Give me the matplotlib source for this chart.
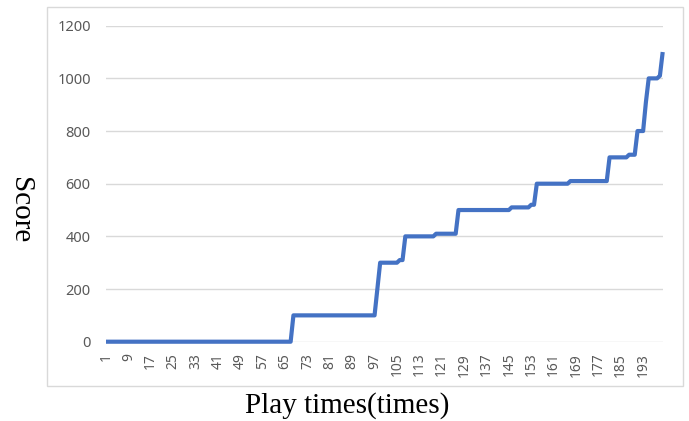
import matplotlib
matplotlib.use("Agg")
import matplotlib.pyplot as plt
from matplotlib.patches import Rectangle
import numpy as np

# Score recorded after each play (plays 1..200)
plays = list(range(1, 201))
score = (
    [0] * 67                      # plays 1-67
    + [100] * 30                  # plays 68-97
    + [200]                       # play 98
    + [300] * 7                   # plays 99-105
    + [310] * 2                   # plays 106-107
    + [400] * 11                  # plays 108-118
    + [410] * 8                   # plays 119-126
    + [500] * 19                  # plays 127-145
    + [510] * 7                   # plays 146-152
    + [520] * 2                   # plays 153-154
    + [600] * 12                  # plays 155-166
    + [610] * 14                  # plays 167-180
    + [700] * 7                   # plays 181-187
    + [710] * 3                   # plays 188-190
    + [800] * 3                   # plays 191-193
    + [910]                       # play 194
    + [1000] * 4                  # plays 195-198
    + [1010]                      # play 199
    + [1100]                      # play 200
)
x_tick_labels = [str(v) for v in range(1, 201, 8)]
y_ticks = [0, 200, 400, 600, 800, 1000, 1200]

W, H = 689, 421
fig = plt.figure(figsize=(W / 100, H / 100), dpi=100)
fig.patch.set_facecolor("white")

# chart-area frame
fig.patches.append(Rectangle((46.7 / W, 1 - 386 / H), (682.7 - 46.7) / W, (386 - 6.7) / H,
                             transform=fig.transFigure, fill=False,
                             edgecolor="#d9d9d9", linewidth=1.0))

left, right = 106 / W, 662.7 / W
bottom, top = 1 - 341.7 / H, 1 - 25.7 / H
ax = fig.add_axes([left, bottom, right - left, top - bottom])

ax.plot(plays, score, color="#4472C4", linewidth=3.0, solid_joinstyle="round",
        solid_capstyle="butt", clip_on=False, zorder=3)

ax.set_xlim(1, 200)
ax.set_ylim(0, 1200)
ax.set_yticks(y_ticks)
ax.set_yticklabels([str(v) for v in y_ticks])
ax.set_xticks(list(range(1, 201, 8)))
ax.set_xticklabels(x_tick_labels, rotation=90)

ax.grid(axis="y", color="#d9d9d9", linewidth=1.0)
ax.set_axisbelow(True)
for s in ax.spines.values():
    s.set_visible(False)

ax.tick_params(axis="y", length=0, pad=11, labelsize=10.5, labelcolor="#595959")
ax.tick_params(axis="x", length=0, pad=8, labelsize=10, labelcolor="#595959")
for lbl in ax.get_xticklabels() + ax.get_yticklabels():
    lbl.set_fontfamily("Noto Sans")

serif = "Liberation Serif"
fig.text(20 / W, 1 - 210 / H, "Score", rotation=270, ha="center", va="center",
         fontsize=21, family=serif, color="black")
fig.text(347 / W, 1 - 406 / H, "Play times(times)", ha="center", va="center",
         fontsize=21, family=serif, color="black")

fig.savefig("out.png", dpi=100, facecolor="white")
